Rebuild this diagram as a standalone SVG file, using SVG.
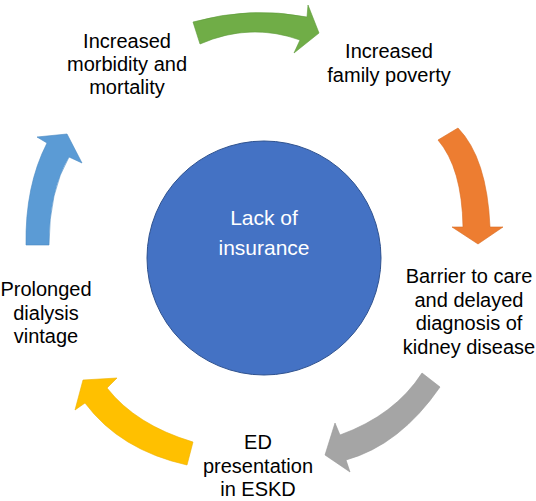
<svg xmlns="http://www.w3.org/2000/svg" width="536" height="501" viewBox="0 0 536 501">
<style>
  .lbl { font-family: "Liberation Sans", Arial, sans-serif; font-size: 20px; fill: #000; text-anchor: middle; }
  .ctr { font-family: "Liberation Sans", Arial, sans-serif; font-size: 21px; fill: #fff; text-anchor: middle; }
  .arr { stroke-width: 0.6; stroke-linejoin: miter; }
</style>
<rect width="536" height="501" fill="#fff"/>
<g id="connectors">
  <path id="arrow-green" class="arr" fill="#70AD47" stroke="#5E9A3A" d="M193,22 Q250,6 307,17 L308,5 L319,33 L294,53 L300,40 Q250,22 200,44 Z"/>
  <path id="arrow-orange" class="arr" fill="#ED7D31" stroke="#D86C22" d="M438,140 Q462,168 463,227 L452,227 L478,244 L503,227 L490,227 Q487,158 458,128 Z"/>
  <path id="arrow-gray" class="arr" fill="#A5A5A5" stroke="#979797" d="M422,373 Q395,415 340,435 L335,423 L325,455 L350,472 L346,460 Q400,445 440,387 Z"/>
  <path id="arrow-yellow" class="arr" fill="#FFC000" stroke="#EDB000" d="M193,442 Q136,425 107,388 L117,378 L83,380 L75,410 L85,403 Q120,450 187,465 Z"/>
  <path id="arrow-blue" class="arr" fill="#5B9BD5" stroke="#4A89C2" d="M26,245 Q25,186 47,143 L37,137 L67,134 L82,163 L69,157 Q49,191 49,245 Z"/>
</g>
<g id="node-center">
  <circle cx="264" cy="258" r="117" fill="#4472C4" stroke="#2F528F" stroke-width="1"/>
  <text class="ctr" x="264" y="225">Lack of</text>
  <text class="ctr" x="264" y="255">insurance</text>
</g>
<g id="node-morbidity">
  <text class="lbl" x="127" y="48">Increased</text>
  <text class="lbl" x="127" y="71">morbidity and</text>
  <text class="lbl" x="127" y="94">mortality</text>
</g>
<g id="node-poverty">
  <text class="lbl" x="389" y="58">Increased</text>
  <text class="lbl" x="389" y="82">family poverty</text>
</g>
<g id="node-barrier">
  <text class="lbl" x="469" y="283">Barrier to care</text>
  <text class="lbl" x="469" y="307">and delayed</text>
  <text class="lbl" x="469" y="330">diagnosis of</text>
  <text class="lbl" x="469" y="354">kidney disease</text>
</g>
<g id="node-ed">
  <text class="lbl" x="258" y="449">ED</text>
  <text class="lbl" x="258" y="473">presentation</text>
  <text class="lbl" x="258" y="496">in ESKD</text>
</g>
<g id="node-dialysis">
  <text class="lbl" x="46" y="296">Prolonged</text>
  <text class="lbl" x="46" y="320">dialysis</text>
  <text class="lbl" x="46" y="343">vintage</text>
</g>
</svg>
